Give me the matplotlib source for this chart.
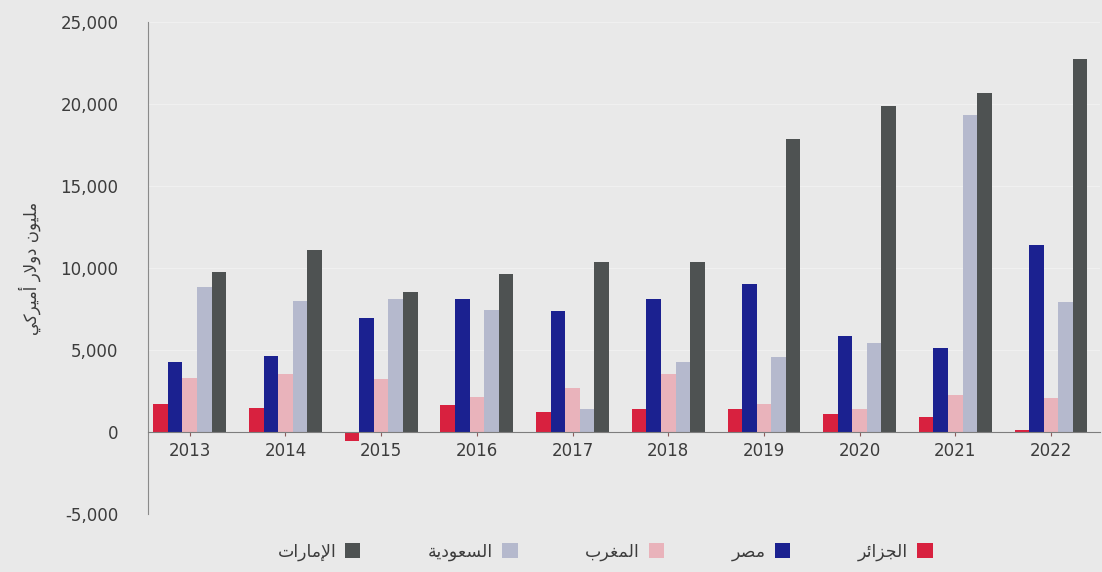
import matplotlib.pyplot as plt
import numpy as np
from matplotlib.ticker import FuncFormatter

plt.rcParams['font.family'] = ['DejaVu Sans']

years = ['2013', '2014', '2015', '2016', '2017', '2018', '2019', '2020', '2021', '2022']

# مليون دولار أميركي
algeria = [1690, 1500, -550, 1640, 1200, 1420, 1380, 1130, 900, 120]
egypt = [4260, 4610, 6930, 8110, 7410, 8140, 9010, 5850, 5120, 11400]
morocco = [3300, 3560, 3260, 2160, 2690, 3540, 1720, 1420, 2270, 2100]
saudi = [8870, 8010, 8140, 7450, 1420, 4250, 4560, 5400, 19300, 7900]
uae = [9770, 11070, 8550, 9610, 10350, 10390, 17880, 19880, 20670, 22740]

# Arabic labels in visual order (presentation forms), matplotlib has no shaping
lbl_algeria = '\uFEAE\uFE8B\uFE8D\uFEB0\uFEA0\uFEDF\uFE8D'
lbl_egypt = '\uFEAE\uFEBC\uFEE3'
lbl_morocco = '\uFE8F\uFEAE\uFED0\uFEE4\uFEDF\uFE8D'
lbl_saudi = '\uFE94\uFEF3\uFEA9\uFEEE\uFECC\uFEB4\uFEDF\uFE8D'
lbl_uae = '\uFE95\uFE8D\uFEAD\uFE8E\uFEE3\uFEF9\uFE8D'
ylab = ('\uFEF2\uFEDB\uFEAE\uFEF4\uFEE3\uFE83' + ' ' +
        '\uFEAD\uFEFB\uFEED\uFEA9' + ' ' +
        '\uFEE5\uFEEE\uFEF4\uFEE0\uFEE3')

series = [algeria, egypt, morocco, saudi, uae]
labels = [lbl_algeria, lbl_egypt, lbl_morocco, lbl_saudi, lbl_uae]
colors = ['#d8213f', '#1b2190', '#e9b3bb', '#b5b9cd', '#4e5252']

bg = '#e9e9e9'
txt = '#3c3c3c'
fig = plt.figure(figsize=(11.02, 5.72), dpi=100, facecolor=bg)
ax = fig.add_axes([0.134, 0.101, 0.864, 0.861])
ax.set_facecolor(bg)

x = np.arange(len(years))
w = 0.152
for i, (vals, lab, col) in enumerate(zip(series, labels, colors)):
    ax.bar(x + (i - 2) * w, vals, w, color=col, label=lab, zorder=3)

ax.set_ylim(-5000, 25000)
ax.set_xlim(-0.44, 9.51)
ax.set_yticks(range(-5000, 25001, 5000))
ax.yaxis.set_major_formatter(FuncFormatter(lambda v, p: '{:,.0f}'.format(v)))
ax.set_xticks(x)
ax.set_xticklabels(years)

ax.spines['top'].set_visible(False)
ax.spines['right'].set_visible(False)
ax.spines['bottom'].set_position(('data', 0))
ax.spines['bottom'].set_color('#7d7d7d')
ax.spines['left'].set_color('#8a8a8a')
ax.spines['bottom'].set_zorder(4)

ax.tick_params(axis='y', length=0, labelsize=12, labelcolor=txt, pad=21)
ax.tick_params(axis='x', length=3, color='#8a5a5a', labelsize=12,
               labelcolor=txt, pad=4)

ax.grid(axis='y', color='#f0f0f0', linewidth=0.8, zorder=0)
ax.set_axisbelow(True)

ax.set_ylabel(ylab, fontsize=12, color=txt, labelpad=14)

handles, labs = ax.get_legend_handles_labels()
leg = fig.legend(handles[::-1], labs[::-1], loc='lower center',
                 bbox_to_anchor=(0.549, -0.008), ncol=5, frameon=False,
                 markerfirst=False, handlelength=0.9, handleheight=0.9,
                 columnspacing=3.9, handletextpad=0.5,
                 prop={'size': 12.5})
for t in leg.get_texts():
    t.set_color(txt)

fig.savefig('out.png', dpi=100, facecolor=bg)
